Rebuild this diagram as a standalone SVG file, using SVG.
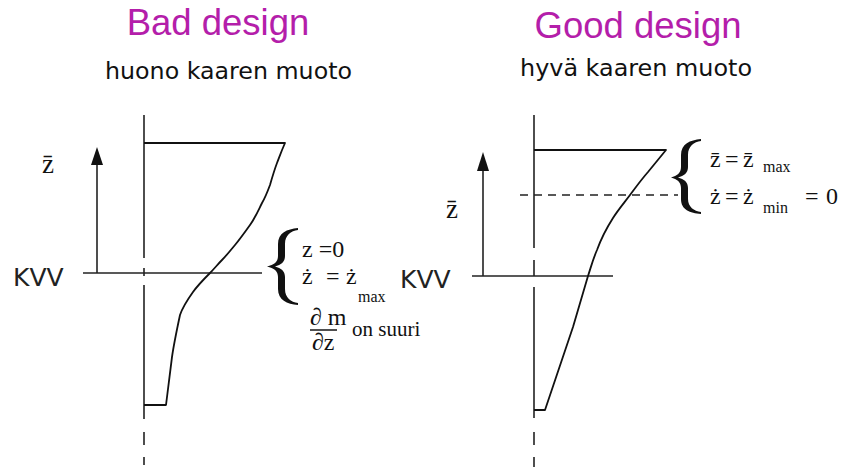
<svg xmlns="http://www.w3.org/2000/svg" width="842" height="468" viewBox="0 0 842 468">
<defs>
<style>
.ln{stroke:#222;stroke-width:1.6;fill:none}
.cv{stroke:#111;stroke-width:1.8;fill:none;stroke-linejoin:round}
.ttl{font-family:"Liberation Sans",Arial,sans-serif;font-size:36.5px;fill:#b41eaa}
.sub{font-family:"DejaVu Sans","Noto Sans",sans-serif;font-size:23px;fill:#111}
.kvv{font-family:"DejaVu Sans","Noto Sans",sans-serif;font-size:25px;fill:#222}
.m{font-family:"Liberation Serif","Times New Roman",serif;font-size:24px;fill:#111}
.ax{font-family:"Liberation Serif","Times New Roman",serif;font-size:27px;fill:#111}
.s{font-family:"Liberation Serif","Times New Roman",serif;font-size:16px;fill:#111}
.br{fill:#111}
</style>
</defs>
<rect width="842" height="468" fill="#fff"/>

<g id="titles">
<text class="ttl" x="218" y="35" text-anchor="middle">Bad design</text>
<text class="sub" x="105" y="79" textLength="247" lengthAdjust="spacingAndGlyphs">huono kaaren muoto</text>
<text class="ttl" x="638" y="38" text-anchor="middle">Good design</text>
<text class="sub" x="520" y="76" textLength="232" lengthAdjust="spacingAndGlyphs">hyvä kaaren muoto</text>
</g>

<g id="left-diagram">
<path class="ln" d="M144,115V258M144,268V276M144,285V419M144,432V445M144,457V465"/>
<path class="ln" d="M83,273H262"/>
<path class="ln" d="M97,165V273"/>
<polygon points="97,147 91,165 103,165" fill="#111"/>
<text class="ax" x="42" y="173">z̄</text>
<text class="kvv" x="13" y="286">KVV</text>
<path class="cv" d="M144,143H285C281,152 279,158 277,163C274,171 272,178 270,185C267,193 265,198 262,203C258,211 255,218 250,225C245,232 240,239 235,245C230,251 226,256 222,260C218,264 214,269 210,273C204,279 198,285 193,292C188,299 183,306 180,315C177,329 174,343 172,357L166,405H144"/>
</g>

<g id="left-annotation">
<path class="br" d="M298,228C287,229 278,233 278,244L278,256C278,262 274,265 267,266.5C274,268 278,271 278,277L278,289C278,300 287,304 298,305L298,303C291,302 285,298 285,289L285,277C285,271 281,268 275,266.5C281,265 285,262 285,256L285,244C285,235 291,231 298,230Z"/>
<text class="m" x="302" y="257">z =0</text>
<text class="m" y="284"><tspan x="302">ż</tspan><tspan x="326">=</tspan><tspan x="346">ż</tspan></text>
<text class="s" x="358" y="302">max</text>
<text class="m" x="310" y="325">∂ m</text>
<path class="ln" d="M310,330H337" stroke-width="1.2"/>
<text class="m" x="312" y="350">∂z</text>
<text class="m" x="352" y="336" style="font-size:21px">on suuri</text>
</g>

<g id="right-diagram">
<path class="ln" d="M534,115V248M534,260V276M534,287V418M534,432V445M534,457V467"/>
<path class="ln" d="M472,276H613"/>
<path class="ln" d="M520,195H678" stroke-dasharray="8 6" stroke="#555" stroke-width="1.2"/>
<path class="ln" d="M483,171V276"/>
<polygon points="483,152 477,171 489,171" fill="#111"/>
<text class="ax" x="446" y="218">z̄</text>
<text class="kvv" x="400" y="288">KVV</text>
<path class="cv" d="M534,150H666L648,172C641,180 636,187 630,195C624,203 618,210 613,218C606,229 601,239 597,250C593,259 591,267 588,276L573,327L545,410H534"/>
</g>

<g id="right-annotation">
<path class="br" d="M701,139C690,140 681,144 681,155L681,167C681,173 677,176 671,177.5C677,179 681,182 681,188L681,199C681,210 690,213 701,214L701,212C694,211 688,207 688,199L688,188C688,182 684,179 678,177.5C684,176 688,173 688,167L688,155C688,146 694,142 701,141Z"/>
<text class="m" y="167"><tspan x="710">z̄</tspan><tspan x="725">=</tspan><tspan x="743">z̄</tspan></text>
<text class="s" x="763" y="172">max</text>
<text class="m" y="204"><tspan x="710">ż</tspan><tspan x="725">=</tspan><tspan x="743">ż</tspan></text>
<text class="s" x="763" y="213">min</text>
<text class="m" y="204"><tspan x="805">=</tspan><tspan x="826">0</tspan></text>
</g>
</svg>
